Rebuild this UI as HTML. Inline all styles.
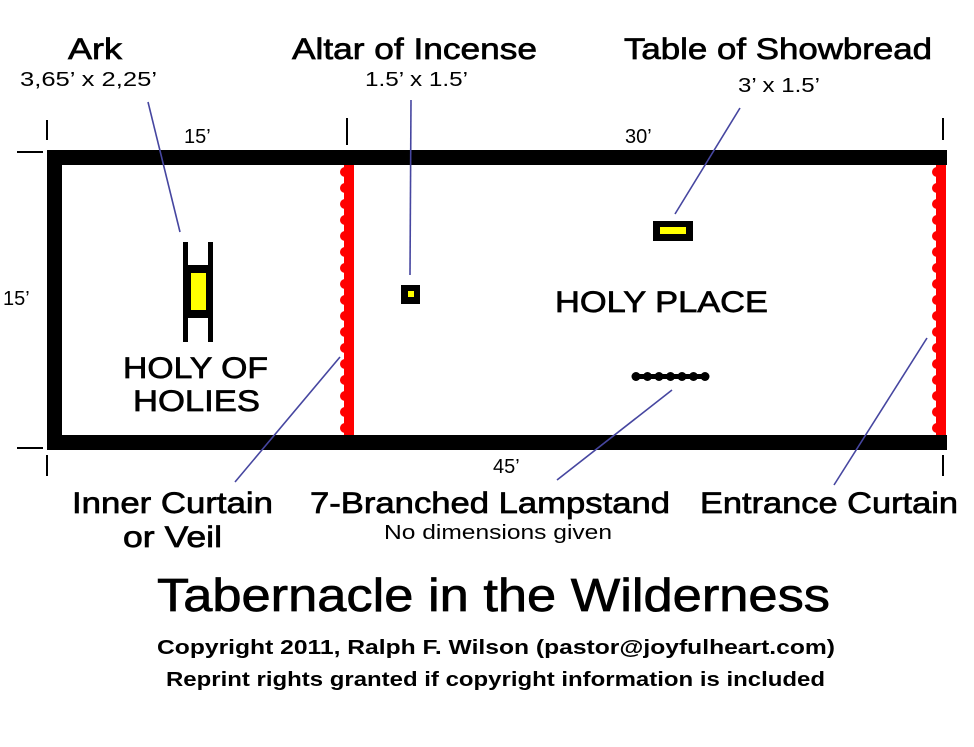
<!DOCTYPE html>
<html><head><meta charset="utf-8"><style>
html,body{margin:0;padding:0;background:#fff;}
svg{display:block;font-family:"Liberation Sans",Arial,sans-serif;}
.big{stroke:#000;stroke-width:0.7;}
</style></head><body>
<svg width="974" height="747" viewBox="0 0 974 747">
<rect width="974" height="747" fill="#fff"/>
<g fill="#000">
<rect x="47" y="150" width="900" height="15"/>
<rect x="47" y="435" width="900" height="15"/>
<rect x="47" y="150" width="15" height="300"/>
</g>
<g stroke="#000" stroke-width="2">
<line x1="47" y1="120" x2="47" y2="140"/><line x1="347" y1="118" x2="347" y2="145"/><line x1="943" y1="118" x2="943" y2="140"/>
<line x1="47" y1="455" x2="47" y2="476"/><line x1="943" y1="455" x2="943" y2="476"/>
<line x1="17" y1="152" x2="43" y2="152"/><line x1="17" y1="448" x2="43" y2="448"/>
</g>
<g id="curtains" fill="#f00"></g>
<g>
<rect x="183" y="242" width="5" height="100" fill="#000"/><rect x="208" y="242" width="5" height="100" fill="#000"/>
<rect x="183" y="265" width="30" height="8" fill="#000"/><rect x="183" y="310" width="30" height="8" fill="#000"/>
<rect x="188" y="273" width="20" height="37" fill="#000"/><rect x="191" y="273" width="15" height="37" fill="#ff0"/>
</g>
<g><rect x="401" y="285" width="19" height="19" fill="#000"/><rect x="408" y="291" width="6" height="6" fill="#ff0"/></g>
<g><rect x="653" y="221" width="40" height="20" fill="#000"/><rect x="660" y="227" width="26" height="7" fill="#ff0"/></g>
<g fill="#000" id="lamp"><rect x="633" y="374" width="74" height="5"/></g>
<g stroke="#4646a0" stroke-width="1.6">
<line x1="148" y1="102" x2="180" y2="232"/>
<line x1="411" y1="100" x2="410" y2="275"/>
<line x1="740" y1="108" x2="675" y2="214"/>
<line x1="340" y1="357" x2="235" y2="482"/>
<line x1="672" y1="390" x2="557" y2="480"/>
<line x1="927" y1="338" x2="834" y2="485"/>
</g>
<g fill="#000">
<text class="big" x="68" y="59" font-size="30" textLength="54" lengthAdjust="spacingAndGlyphs">Ark</text>
<text x="20" y="86" font-size="20" textLength="137" lengthAdjust="spacingAndGlyphs">3,65’ x 2,25’</text>
<text class="big" x="292" y="59" font-size="30" textLength="245" lengthAdjust="spacingAndGlyphs">Altar of Incense</text>
<text x="365" y="86" font-size="20" textLength="103" lengthAdjust="spacingAndGlyphs">1.5’ x 1.5’</text>
<text class="big" x="624" y="59" font-size="30" textLength="308" lengthAdjust="spacingAndGlyphs">Table of Showbread</text>
<text x="738" y="92" font-size="20" textLength="82" lengthAdjust="spacingAndGlyphs">3’ x 1.5’</text>
<text x="184" y="143" font-size="20">15’</text>
<text x="625" y="143" font-size="20">30’</text>
<text x="3" y="305" font-size="20">15’</text>
<text x="493" y="473" font-size="20">45’</text>
<text class="big" x="555" y="312" font-size="30" textLength="213" lengthAdjust="spacingAndGlyphs">HOLY PLACE</text>
<text class="big" x="123" y="378" font-size="30" textLength="145" lengthAdjust="spacingAndGlyphs">HOLY OF</text>
<text class="big" x="133" y="411" font-size="30" textLength="127" lengthAdjust="spacingAndGlyphs">HOLIES</text>
<text class="big" x="72" y="513" font-size="30" textLength="201" lengthAdjust="spacingAndGlyphs">Inner Curtain</text>
<text class="big" x="123" y="547" font-size="30" textLength="99" lengthAdjust="spacingAndGlyphs">or Veil</text>
<text class="big" x="310" y="513" font-size="30" textLength="360" lengthAdjust="spacingAndGlyphs">7-Branched Lampstand</text>
<text x="384" y="539" font-size="20" textLength="228" lengthAdjust="spacingAndGlyphs">No dimensions given</text>
<text class="big" x="700" y="513" font-size="30" textLength="258" lengthAdjust="spacingAndGlyphs">Entrance Curtain</text>
<text class="big" x="157" y="611" font-size="46" textLength="673" lengthAdjust="spacingAndGlyphs">Tabernacle in the Wilderness</text>
<text x="157" y="654" font-size="20" font-weight="bold" textLength="678" lengthAdjust="spacingAndGlyphs">Copyright 2011, Ralph F. Wilson (pastor@joyfulheart.com)</text>
<text x="166" y="686" font-size="20" font-weight="bold" textLength="659" lengthAdjust="spacingAndGlyphs">Reprint rights granted if copyright information is included</text>
</g>
<script>
const curtainXs=[342,934];
const g=document.getElementById('curtains');
curtainXs.forEach(function(x){
  const r=document.createElementNS('http://www.w3.org/2000/svg','rect');
  
  
  r.setAttribute('x',x+2);r.setAttribute('y',165);r.setAttribute('width',10);r.setAttribute('height',270);
  g.appendChild(r);
  for(let y=172;y<432;y+=16){
    const c=document.createElementNS('http://www.w3.org/2000/svg','circle');
    
    
    c.setAttribute('cx',x+3);c.setAttribute('cy',y);c.setAttribute('r',5);
    g.appendChild(c);
  }
});
const lamps=[0,1,2,3,4,5,6];
const lg=document.getElementById('lamp');
lamps.forEach(function(i){
  const c=document.createElementNS('http://www.w3.org/2000/svg','circle');
  
  
  c.setAttribute('cx',636+i*11.5);c.setAttribute('cy',376.5);c.setAttribute('r',4.5);
  lg.appendChild(c);
});
</script>
</svg>
</body></html>
